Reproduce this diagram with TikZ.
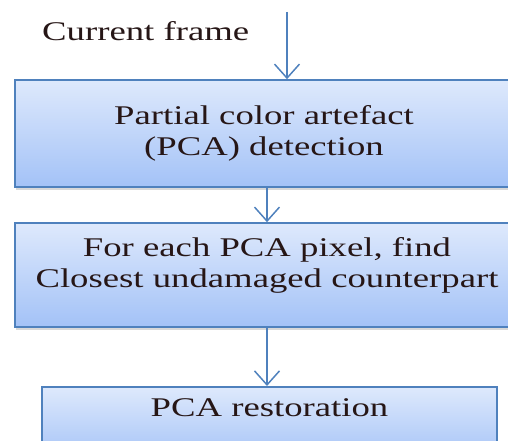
\documentclass[tikz,border=0pt]{standalone}
\usepackage{fontspec}
\setmainfont[FakeStretch=1.36]{Liberation Serif}
\usetikzlibrary{arrows.meta,shadows}
\definecolor{boxline}{RGB}{79,129,189}
\definecolor{boxtop}{RGB}{222,233,252}
\definecolor{boxbot}{RGB}{163,194,247}
\definecolor{inkdark}{RGB}{38,22,22}

\begin{document}
\begin{tikzpicture}[x=1pt,y=-1pt,
    every node/.style={inner sep=0pt,text=inkdark,font=\fontsize{27}{31.5}\selectfont},
    >={Straight Barb[length=14pt,width=25pt]},
    box/.style={draw=boxline,line width=1.6pt,top color=boxtop,bottom color=boxbot,
      drop shadow={opacity=0.3,shadow xshift=1pt,shadow yshift=-3pt},align=center},
    link/.style={draw=boxline,line width=1.5pt}]
  \useasboundingbox (0,0) rectangle (508,441);
  \node[anchor=base west] (cur) at (42,41) {Current frame};
  \coordinate (feed) at (287,12);
  \node[box,minimum width=498pt,minimum height=107pt] (detect) at (264,133.5)
    {Partial color artefact\\(PCA) detection};
  \node[box,minimum width=504pt,minimum height=104pt] (find) at (267,275)
    {For each PCA pixel, find\\Closest undamaged counterpart\\[-6pt]\mbox{}};
  \node[box,anchor=north,minimum width=455pt,text height=30pt,text depth=45pt] (restore)
    at (269.5,386) {PCA restoration};
  \draw[->,link] (feed) -- (feed |- detect.north);
  \draw[->,link] (find.north |- detect.south) -- (find.north);
  \draw[->,link] (find.south) -- (find.south |- restore.north);
\end{tikzpicture}
\end{document}
